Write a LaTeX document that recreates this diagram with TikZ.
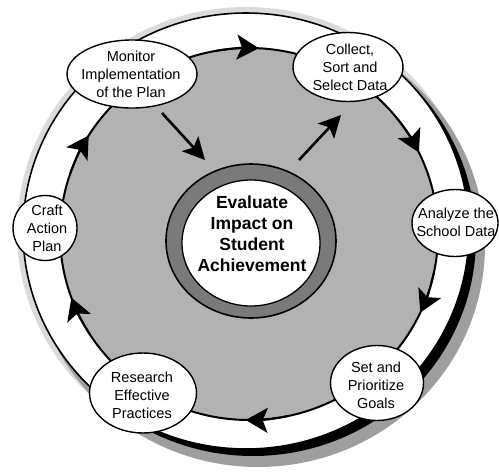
\documentclass[tikz,border=0pt]{standalone}
\usepackage{fontspec}
\setmainfont{Liberation Sans}
\usetikzlibrary{arrows.meta,shapes.geometric}
\begin{document}
\begin{tikzpicture}[x=1pt,y=-1pt,
  stage/.style={ellipse,draw=black,line width=1.4pt,fill=white,inner sep=0pt},
  stagetext/.style={align=center,inner sep=0pt,font=\fontsize{14.5}{18}\selectfont},
  hubtext/.style={align=center,inner sep=0pt,font=\bfseries\fontsize{17.5}{21}\selectfont},
  bandtip/.style={-{Stealth[length=22pt,width=25pt,inset=5pt]},line width=2pt},
  flow/.style={-{Stealth[length=22pt,width=22pt,inset=5pt]},line width=2.6pt}]
\path[fill=white] (0,0) rectangle (499,475);
\useasboundingbox (0,0) rectangle (499,475);
% shadow and halo of the disc
\fill[black!14] (246,231) ellipse[x radius=229, y radius=224];
\fill[black!38] (258,245) ellipse[x radius=227, y radius=222];
\fill[black] (253,238) ellipse[x radius=223, y radius=218];
\filldraw[fill=white,draw=black,line width=1.6pt] (246,231) ellipse[x radius=223, y radius=218];
% inner stippled field
\filldraw[fill=black!30,draw=black,line width=2pt] (249,234) ellipse[x radius=189, y radius=186];
% hub ring
\filldraw[fill=black!52,draw=black,line width=1.6pt] (251,241) ellipse[x radius=85, y radius=77];
\filldraw[fill=white,draw=black,line width=1.3pt] (251,243) ellipse[x radius=69, y radius=63];
% arrowheads on the band
\foreach \t in {-90,-29,22,88,157,209}
  \draw[bandtip] (249,234) ++(\t-10:189 and 186) arc[start angle=\t-10, end angle=\t+3, x radius=189, y radius=186];
% stages
\node[stage,minimum width=130pt,minimum height=68pt] (mon) at (132,74) {};
\node[stagetext] (mon-t) at (131,74) {Monitor\\Implementation\\of the Plan};
\node[stage,minimum width=110pt,minimum height=69pt] (col) at (348,67) {};
\node[stagetext] (col-t) at (350,67) {Collect,\\Sort and\\Select Data};
\node[stage,minimum width=86pt,minimum height=67pt] (ana) at (455,223) {};
\node[stagetext] (ana-t) at (456,222) {Analyze the\\School Data};
\node[stage,minimum width=93pt,minimum height=75pt] (set) at (377,383) {};
\node[stagetext] (set-t) at (376,385) {Set and\\Prioritize\\Goals};
\node[stage,minimum width=107pt,minimum height=80pt] (res) at (143,393) {};
\node[stagetext] (res-t) at (142,395) {Research\\Effective\\Practices};
\node[stage,minimum width=64pt,minimum height=65pt] (cra) at (45,228) {};
\node[stagetext] (cra-t) at (47,228) {Craft\\Action\\Plan};
% hub text
\node[hubtext] (hub) at (252,234) {Evaluate\\Impact on\\Student\\Achievement};
% flow arrows
\coordinate (f1s) at (162,113);
\coordinate (f1e) at (205,160);
\coordinate (f2s) at (299,160);
\coordinate (f2e) at (341,115);
\draw[flow] (f1s) -- (f1e);
\draw[flow] (f2s) -- (f2e);
\end{tikzpicture}
\end{document}
